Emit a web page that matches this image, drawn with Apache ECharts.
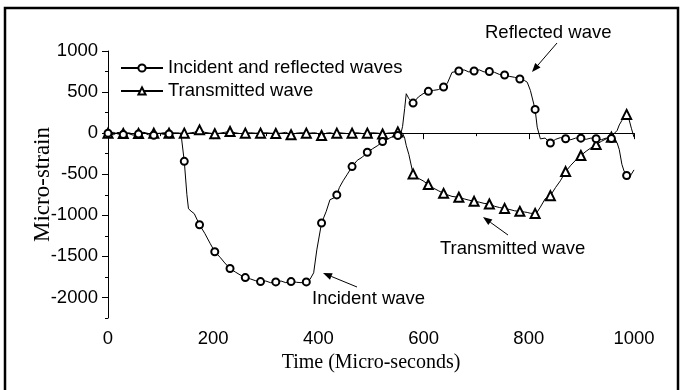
<!DOCTYPE html>
<html>
<head>
<meta charset="utf-8">
<script src="https://cdn.jsdelivr.net/npm/echarts@6/dist/echarts.min.js"></script>
<style>
    html, body { margin: 0; padding: 0; background: #fff; }
    #chart { width: 683px; height: 390px; }
</style>
</head>
<body>
<div id="chart"></div>
<script>
    // time axis (micro-seconds), markers every 29 us
    var times = [
        0, 10, 19, 29, 39, 48, 58, 68, 77, 87,
        97, 106, 116, 126, 135, 139, 145, 150, 153, 158,
        164, 174, 184, 194, 203, 213, 222, 232, 242, 251,
        261, 271, 280, 290, 300, 309, 319, 329, 338, 348,
        358, 367, 377, 384, 391, 397, 406, 415, 422, 429,
        435, 440, 447, 455, 464, 474, 484, 493, 503, 513,
        522, 532, 542, 551, 556, 560, 564, 567, 572, 580,
        590, 599, 609, 619, 628, 638, 645, 654, 667, 677,
        686, 696, 706, 715, 725, 735, 744, 754, 764, 773,
        783, 792, 797, 803, 812, 816, 822, 831, 841, 851,
        860, 870, 880, 889, 899, 909, 918, 928, 938, 947,
        957, 963, 968, 972, 977, 981, 986, 990, 995, 1000
    ];

    // incident + reflected (micro-strain)
    var incident = [
        0, -20, 10, -15, -5, -25, -10, 5, -20, -25,
        0, -15, -10, -5, 0, -20, -343, -750, -920, -950,
        -980, -1115, -1220, -1340, -1444, -1510, -1580, -1648, -1690, -1725,
        -1758, -1775, -1795, -1807, -1800, -1820, -1811, -1800, -1820, -1807,
        -1815, -1820, -1811, -1780, -1700, -1420, -1094, -950, -810, -790,
        -752, -660, -580, -500, -407, -330, -290, -232, -190, -150,
        -101, -70, -40, -30, -25, 80, 300, 480, 420, 366,
        440, 480, 509, 521, 530, 562, 605, 740, 757, 770,
        745, 757, 770, 745, 750, 740, 715, 708, 690, 680,
        659, 640, 620, 520, 289, 73, -70, -60, -120, -75,
        -55, -68, -80, -60, -61, -75, -60, -68, -80, -60,
        -65, -90, -120, -200, -380, -460, -516, -560, -500, -447
    ];

    // transmitted (micro-strain)
    var transmitted = [
        0, 10, -10, -5, 5, -10, -5, 10, -5, 0,
        -5, 5, 0, 5, 0, 0, 0, -5, 0, 5,
        10, 40, 10, 0, -8, 0, 10, 20, 5, -5,
        0, 5, 0, 0, 5, 0, -5, 0, 10, -20,
        0, 5, 0, 0, 5, 0, -29, 0, 5, -5,
        0, 5, 0, -5, 0, 5, -5, 0, 5, 0,
        -10, 0, 5, 15, 20, 0, -60, -150, -260, -496,
        -550, -580, -626, -670, -700, -733, -750, -770, -781, -800,
        -815, -830, -840, -855, -862, -890, -905, -916, -930, -945,
        -952, -960, -965, -975, -977, -960, -900, -800, -761, -660,
        -580, -468, -390, -330, -272, -220, -180, -138, -100, -70,
        -49, 0, 33, 100, 155, 200, 228, 180, 60, -49
    ];

    var yMajor = [-2000, -1500, -1000, -500, 0, 500, 1000];

    var sans = "'Liberation Sans', Arial, sans-serif";
    var serif = "'Liberation Serif', 'DejaVu Serif', serif";

    function pairs(ys) {
        return times.map(function (t, i) { return [t, ys[i]]; });
    }

    function markerSize(size) {
        return function (v) { return v[0] % 29 === 0 ? size : 0; };
    }

    // little arrow: line from tail to head plus a filled head
    function arrow(x1, y1, x2, y2) {
        var a = Math.atan2(y2 - y1, x2 - x1);
        var len = 9, w = 3.5;
        var bx = x2 - len * Math.cos(a), by = y2 - len * Math.sin(a);
        return [
            { type: 'line', shape: { x1: x1, y1: y1, x2: bx, y2: by }, style: { stroke: '#000', lineWidth: 1 }, z: 100 },
            { type: 'polygon', shape: { points: [[x2, y2],
                [bx + w * Math.sin(a), by - w * Math.cos(a)],
                [bx - w * Math.sin(a), by + w * Math.cos(a)]] }, style: { fill: '#000' }, z: 100 }
        ];
    }

    function label(text, x, y) {
        return { type: 'text', z: 100, style: { text: text, x: x, y: y, font: '18.5px ' + sans, fill: '#000', textVerticalAlign: 'middle' } };
    }

    var chart = echarts.init(document.getElementById('chart'));

    var graphics = [
        { type: 'rect', shape: { x: 5, y: 8, width: 673, height: 400 }, style: { fill: 'none', stroke: '#000', lineWidth: 2.5 }, z: 100 },
        label('Reflected wave', 485, 33),
        label('Transmitted wave', 440, 249),
        label('Incident wave', 312, 299)
    ].concat(arrow(557, 43, 532, 72))
     .concat(arrow(508, 235, 483, 217))
     .concat(arrow(357, 287, 323, 273));

    var option = {
        animation: false,
        backgroundColor: '#fff',
        grid: { left: 108, right: 49, top: 51, bottom: 72 },
        legend: {
            orient: 'vertical',
            left: 120,
            top: 57,
            padding: 0,
            itemWidth: 42,
            itemHeight: 9,
            itemGap: 1,
            textStyle: { fontFamily: sans, fontSize: 18.5, color: '#000', lineHeight: 22 },
            data: ['Incident and reflected waves', 'Transmitted wave']
        },
        xAxis: {
            type: 'value',
            min: 0,
            max: 1000,
            interval: 200,
            name: 'Time (Micro-seconds)',
            nameLocation: 'middle',
            nameGap: 28,
            nameTextStyle: { fontFamily: serif, fontSize: 20, color: '#000' },
            axisLine: { lineStyle: { color: '#000', width: 1 } },
            axisTick: { length: 6, lineStyle: { color: '#000' } },
            minorTick: { show: true, splitNumber: 2, length: 3, lineStyle: { color: '#000' } },
            axisLabel: {
                fontFamily: sans, fontSize: 18.5, color: '#000', margin: 11,
                formatter: function (v) { return String(v); }
            },
            splitLine: { show: false }
        },
        yAxis: [{
            type: 'value',
            min: -2250,
            max: 1000,
            interval: 250,
            name: 'Micro-strain',
            nameLocation: 'middle',
            nameGap: 54,
            nameMoveOverlap: false,
            nameTextStyle: { fontFamily: serif, fontSize: 23, color: '#000' },
            axisLine: { show: true, lineStyle: { color: '#000', width: 1 } },
            axisTick: { show: true, length: 3, lineStyle: { color: '#000' } },
            axisLabel: {
                fontFamily: sans, fontSize: 18.5, color: '#000', margin: 10,
                formatter: function (v) { return v % 500 === 0 ? String(v) : ''; }
            },
            splitLine: { show: false }
        }, {
            type: 'value',
            position: 'left',
            min: -2250,
            max: 1000,
            interval: 250,
            axisLine: { show: false },
            axisTick: { show: true, length: 6, customValues: yMajor, lineStyle: { color: '#000' } },
            axisLabel: { show: false },
            splitLine: { show: false }
        }],
        series: [{
            name: 'Incident and reflected waves',
            type: 'line',
            data: pairs(incident),
            symbol: 'emptyCircle',
            symbolSize: markerSize(7),
            showSymbol: true,
            showAllSymbol: true,
            lineStyle: { color: '#000', width: 1 },
            itemStyle: { color: '#000', borderColor: '#000', borderWidth: 1 },
            z: 3
        }, {
            name: 'Transmitted wave',
            type: 'line',
            data: pairs(transmitted),
            symbol: 'emptyTriangle',
            symbolSize: markerSize(9),
            showSymbol: true,
            showAllSymbol: true,
            lineStyle: { color: '#000', width: 1 },
            itemStyle: { color: '#000', borderColor: '#000', borderWidth: 1 },
            z: 2
        }],
        graphic: graphics
    };

    chart.setOption(option);
</script>
</body>
</html>
